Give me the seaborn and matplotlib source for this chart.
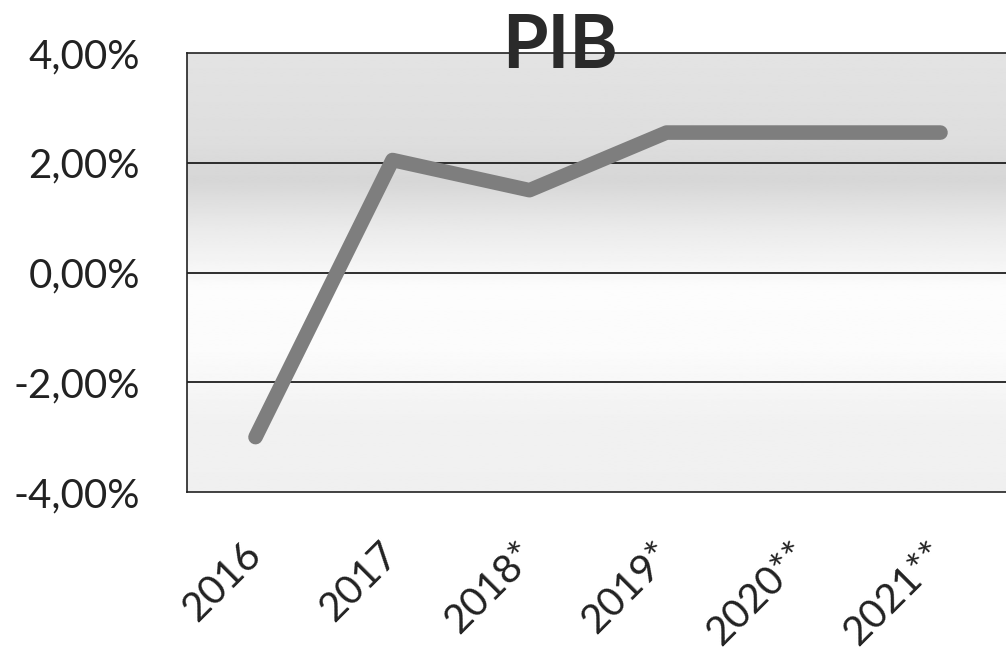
import numpy as np
import matplotlib
matplotlib.use("Agg")
import matplotlib.pyplot as plt
import matplotlib.ticker as mticker
import seaborn as sns

# ---- data ----
categories = ["2016", "2017", "2018*", "2019*", "2020**", "2021**"]
pib_values = [-3.0, 2.05, 1.5, 2.55, 2.55, 2.55]   # % growth
y_ticks = [-4, -2, 0, 2, 4]
title_text = "PIB"

sns.set_theme(style="white")
plt.rcParams["font.family"] = ["Lato", "DejaVu Sans"]

W, H = 1006, 669
fig = plt.figure(figsize=(W / 100, H / 100), dpi=100)
left, right, top, bottom = 187, 1009, 53, 492
ax = fig.add_axes([left / W, 1 - bottom / H, (right - left) / W, (bottom - top) / H])

# background gradient (Excel-like fill)
stops_pos = [0.0, 0.20, 0.29, 0.40, 0.54, 0.68, 0.84, 1.0]
stops_val = [0.89, 0.87, 0.84, 0.92, 0.99, 0.985, 0.945, 0.94]
grad = np.interp(np.linspace(0, 1, 400), stops_pos, stops_val).reshape(-1, 1)
ax.imshow(grad, cmap="gray", vmin=0, vmax=1, aspect="auto",
          extent=[0, 1, 0, 1], transform=ax.transAxes, zorder=-10,
          interpolation="bilinear")

sns.lineplot(x=categories, y=pib_values, ax=ax, sort=False,
             color="#7e7e7e", linewidth=10.5, zorder=5)
for l in ax.lines:
    l.set_solid_capstyle("round")
    l.set_solid_joinstyle("round")

ax.set_xlim(-0.5, len(categories) - 0.5)
ax.set_ylim(-4, 4)
ax.set_yticks(y_ticks)
ax.yaxis.set_major_formatter(
    mticker.FuncFormatter(lambda v, p: f"{v:.2f}".replace(".", ",") + "%"))

for yv in y_ticks[1:-1]:
    ax.axhline(yv, color="#1e1e1e", lw=1.3, zorder=1)

ax.set_xlabel("")
ax.set_ylabel("")
ax.tick_params(axis="y", length=0, pad=34, labelsize=29, labelcolor="#222222")
ax.tick_params(axis="x", length=0, pad=41, labelsize=29, labelcolor="#222222")
for lab in ax.get_xticklabels():
    lab.set_rotation(45)
    lab.set_ha("right")
    lab.set_va("center")
    lab.set_rotation_mode("anchor")

for s in ["left", "top", "bottom"]:
    ax.spines[s].set_visible(True)
    ax.spines[s].set_color("#222222")
    ax.spines[s].set_linewidth(1.2)
ax.spines["right"].set_visible(False)

fig.text(560 / W, 1 - 68 / H, title_text, ha="center", va="baseline",
         fontsize=53, fontweight="bold", color="#2a2a2a", zorder=20)

fig.savefig("out.png", dpi=100)
